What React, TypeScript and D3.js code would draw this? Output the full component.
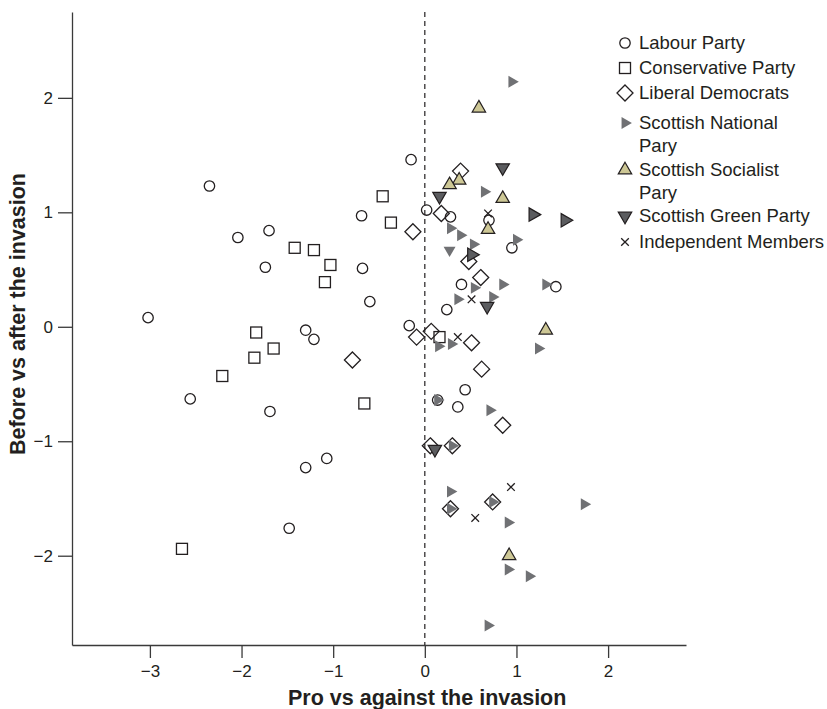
import { useEffect, useRef } from "react"
import * as d3 from "d3"

// axis ticks
const xTicks = [-3, -2, -1, 0, 1, 2]
const yTicks = [-2, -1, 0, 1, 2]

// [pro vs against, before vs after]
const labourParty: [number, number][] = [
  [-3.02, 0.08], [-2.35, 1.23], [-2.04, 0.78], [-1.7, 0.84], [-1.74, 0.52],
  [-0.69, 0.97], [-0.68, 0.51], [-0.6, 0.22], [-1.3, -0.03], [-1.21, -0.11],
  [-2.56, -0.63], [-1.69, -0.74], [-1.07, -1.15], [-1.3, -1.23], [-1.48, -1.76],
  [-0.15, 1.46], [0.02, 1.02], [0.28, 0.96], [0.7, 0.93], [0.95, 0.69],
  [0.4, 0.37], [1.43, 0.35], [0.24, 0.15], [-0.17, 0.01], [0.44, -0.55],
  [0.14, -0.64], [0.36, -0.7],
]

const conservativeParty: [number, number][] = [
  [-1.42, 0.69], [-1.21, 0.67], [-1.03, 0.54], [-1.09, 0.39], [-1.84, -0.05],
  [-1.65, -0.19], [-1.86, -0.27], [-2.21, -0.43], [-0.66, -0.67], [-2.65, -1.94],
  [-0.46, 1.14], [-0.37, 0.91], [0.16, -0.09],
]

const liberalDemocrats: [number, number][] = [
  [0.39, 1.36], [0.18, 0.99], [-0.13, 0.83], [0.48, 0.57], [0.61, 0.43],
  [-0.09, -0.09], [0.07, -0.04], [0.51, -0.14], [0.62, -0.37], [0.85, -0.86],
  [0.06, -1.04], [0.3, -1.04], [0.28, -1.59], [0.74, -1.53], [-0.79, -0.29],
]

const scottishNational: [number, number][] = [
  [0.95, 2.14], [0.65, 1.18], [0.28, 0.86], [0.39, 0.8], [0.53, 0.72],
  [1.0, 0.76], [0.54, 0.34], [0.85, 0.37], [1.32, 0.37], [0.36, 0.24],
  [0.74, 0.26], [0.15, -0.17], [0.29, -0.15], [1.24, -0.19], [0.14, -0.64],
  [0.71, -0.73], [0.3, -1.04], [0.28, -1.44], [0.28, -1.59], [0.74, -1.53],
  [0.91, -1.71], [1.74, -1.55], [0.91, -2.12], [1.14, -2.18], [0.69, -2.61],
]
// one SNP marker is printed pointing down in the source
const scottishNationalDown: [number, number][] = [[0.27, 0.67]]

const scottishSocialist: [number, number][] = [
  [0.59, 1.91], [0.375, 1.28], [0.27, 1.24], [0.85, 1.12], [0.69, 0.85],
  [1.32, -0.03], [0.92, -2.0],
]

const scottishGreen: [number, number][] = [
  [0.85, 1.39], [0.16, 1.14], [0.68, 0.18], [0.11, -1.07],
]
// green markers printed pointing right in the source
const scottishGreenRight: [number, number][] = [[1.18, 0.98], [1.53, 0.93], [0.51, 0.63]]

const independentMembers: [number, number][] = [
  [0.69, 0.99], [0.51, 0.24], [0.36, -0.09], [0.94, -1.4], [0.55, -1.67],
]

const legendLabels: string[][] = [
  ["Labour Party"],
  ["Conservative Party"],
  ["Liberal Democrats"],
  ["Scottish National", "Pary"],
  ["Scottish Socialist", "Pary"],
  ["Scottish Green Party"],
  ["Independent Members"],
]
const legendKinds = ["circle", "square", "diamond", "snp", "ssp", "sgp", "x"]

const ink = "#231f20"

export default function App() {
  const svgRef = useRef<SVGSVGElement>(null)

  useEffect(() => {
    if (!svgRef.current) return
    const svg = d3.select(svgRef.current)
    svg.selectAll("*").remove()

    const font = "'Liberation Sans', Arial, Helvetica, sans-serif"

    const x = d3.scaleLinear().domain([-3.85, 2.85]).range([72, 686])
    const y = d3.scaleLinear().domain([-2.78, 2.75]).range([645, 12])

    // draw one marker of a given kind centred at (cx, cy)
    const marker = (g: any, kind: string, cx: number, cy: number) => {
      const tri = (size: number, angle: number) =>
        g.append("path")
          .attr("d", d3.symbol().type(d3.symbolTriangle).size(size)())
          .attr("transform", `translate(${cx},${cy}) rotate(${angle})`)
      if (kind === "circle") {
        g.append("circle").attr("cx", cx).attr("cy", cy).attr("r", 5.2)
          .attr("fill", "none").attr("stroke", ink).attr("stroke-width", 1.3)
      } else if (kind === "square") {
        g.append("rect").attr("x", cx - 5.5).attr("y", cy - 5.5).attr("width", 11).attr("height", 11)
          .attr("fill", "none").attr("stroke", ink).attr("stroke-width", 1.3)
      } else if (kind === "diamond") {
        g.append("path")
          .attr("d", `M${cx},${cy - 8}L${cx + 8},${cy}L${cx},${cy + 8}L${cx - 8},${cy}Z`)
          .attr("fill", "none").attr("stroke", ink).attr("stroke-width", 1.3)
      } else if (kind === "snp" || kind === "snpDown") {
        tri(62, kind === "snp" ? 90 : 180).attr("fill", "#707174")
      } else if (kind === "ssp") {
        tri(78, 0).attr("fill", "#cdc795").attr("stroke", ink).attr("stroke-width", 1.2)
      } else if (kind === "sgp" || kind === "sgpRight") {
        tri(78, kind === "sgp" ? 180 : 90).attr("fill", "#5b5c5f").attr("stroke", ink).attr("stroke-width", 1.2)
      } else if (kind === "x") {
        const r = 3.8
        g.append("path")
          .attr("d", `M${cx - r},${cy - r}L${cx + r},${cy + r}M${cx - r},${cy + r}L${cx + r},${cy - r}`)
          .attr("stroke", ink).attr("stroke-width", 1.3).attr("fill", "none")
      }
    }

    // axes
    const fmt = d3.format("d")
    const xAxis = svg.append("g")
      .attr("transform", "translate(0,645)")
      .call(d3.axisBottom(x).tickValues(xTicks).tickFormat(fmt).tickSize(13).tickSizeOuter(0).tickPadding(7))
    const yAxis = svg.append("g")
      .attr("transform", "translate(72,0)")
      .call(d3.axisLeft(y).tickValues(yTicks).tickFormat(fmt).tickSize(14).tickSizeOuter(0).tickPadding(5))
    for (const ax of [xAxis, yAxis]) {
      ax.selectAll("path,line").attr("stroke", "#3a3a3a").attr("stroke-width", 1.3)
      ax.selectAll("text").attr("fill", ink).style("font-family", font).style("font-size", "17px")
    }

    // zero reference line
    svg.append("line")
      .attr("x1", x(0)).attr("x2", x(0))
      .attr("y1", 12).attr("y2", 645)
      .attr("stroke", ink).attr("stroke-width", 1.2).attr("stroke-dasharray", "5,4")

    // points
    const pts = svg.append("g")
    const series: [[number, number][], string][] = [
      [labourParty, "circle"],
      [conservativeParty, "square"],
      [liberalDemocrats, "diamond"],
      [scottishNational, "snp"],
      [scottishNationalDown, "snpDown"],
      [scottishSocialist, "ssp"],
      [scottishGreen, "sgp"],
      [scottishGreenRight, "sgpRight"],
      [independentMembers, "x"],
    ]
    series.forEach(([data, kind]) => {
      data.forEach(([px, py]) => marker(pts, kind, x(px), y(py)))
    })

    // legend
    const legend = svg.append("g")
    const rowY = [43, 68, 93, 123, 170, 216, 242]
    legendLabels.forEach((lines, i) => {
      marker(legend, legendKinds[i], 625, rowY[i])
      lines.forEach((line, j) => {
        legend.append("text")
          .attr("x", 639)
          .attr("y", rowY[i] + j * 22.5)
          .attr("dy", "0.35em")
          .attr("fill", ink)
          .style("font-family", font)
          .style("font-size", "18.5px")
          .text(line)
      })
    })

    // axis titles
    svg.append("text")
      .attr("x", 288).attr("y", 705)
      .attr("fill", ink)
      .style("font-family", font).style("font-size", "21.5px").style("font-weight", "bold")
      .text("Pro vs against the invasion")

    svg.append("text")
      .attr("transform", "translate(25,314) rotate(-90)")
      .attr("text-anchor", "middle")
      .attr("fill", ink)
      .style("font-family", font).style("font-size", "21.5px").style("font-weight", "bold")
      .text("Before vs after the invasion")
  }, [])

  return (
    <svg
      ref={svgRef}
      width={827}
      height={709}
      style={{ position: "absolute", left: 0, top: 0, background: "#fff" }}
    />
  )
}
